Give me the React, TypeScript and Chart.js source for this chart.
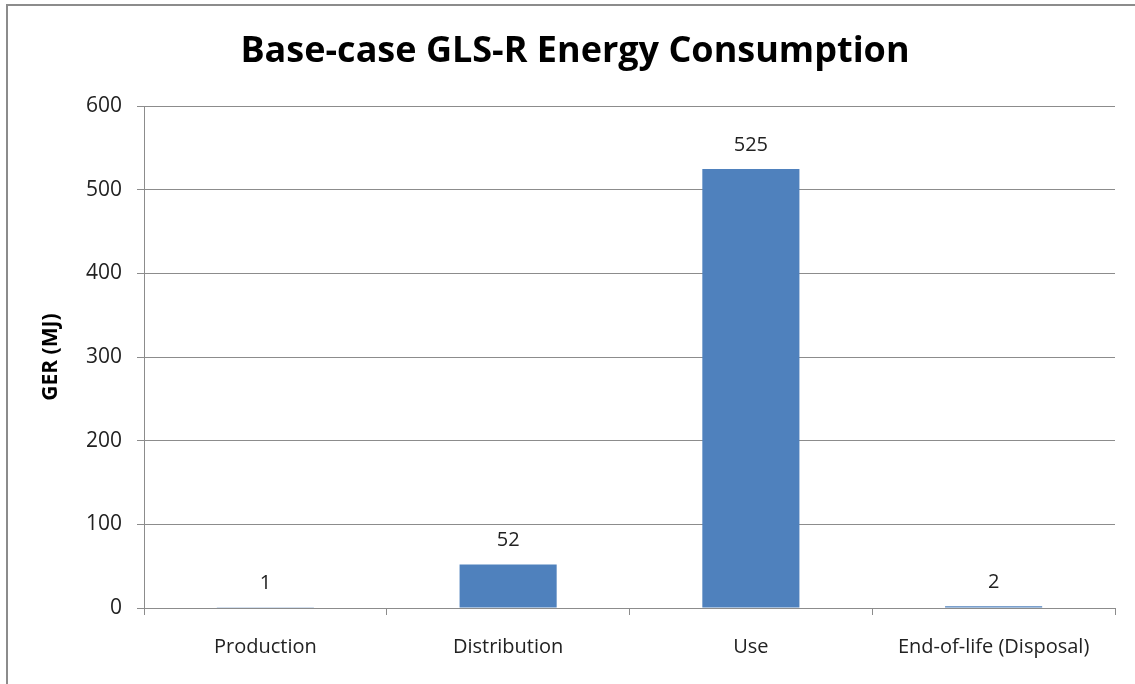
import React, { useEffect, useRef } from "react";
import { Chart, registerables } from "chart.js";

Chart.register(...registerables);

const categories = ["Production", "Distribution", "Use", "End-of-life (Disposal)"];
const gerValues = [1, 52, 525, 2];
const titleText = "Base-case GLS-R Energy Consumption";
const yAxisTitle = "GER (MJ)";

const FONT = "'Open Sans', 'DejaVu Sans', sans-serif";

const dataLabelPlugin = {
  id: "dataLabels",
  afterDatasetsDraw(chart: any) {
    const ctx = chart.ctx;
    const meta = chart.getDatasetMeta(0);
    ctx.save();
    ctx.font = `20px ${FONT}`;
    ctx.fillStyle = "#222";
    ctx.textAlign = "center";
    ctx.textBaseline = "middle";
    meta.data.forEach((bar: any, i: number) => {
      ctx.fillText(String(gerValues[i]), bar.x, bar.y - 24);
    });
    ctx.restore();
  },
};

export default function App() {
  const ref = useRef<HTMLCanvasElement>(null);
  useEffect(() => {
    if (!ref.current) return;
    const chart = new Chart(ref.current, {
      type: "bar",
      data: {
        labels: categories,
        datasets: [
          {
            data: gerValues,
            backgroundColor: "#4F81BD",
            categoryPercentage: 1,
            barPercentage: 0.4,
          },
        ],
      },
      options: {
        animation: false,
        responsive: false,
        maintainAspectRatio: false,
        layout: { padding: { top: 0, left: 15, right: 0, bottom: 0 } },
        plugins: {
          legend: { display: false },
          tooltip: { enabled: false },
          title: {
            display: true,
            text: titleText,
            color: "#000",
            font: { family: FONT, size: 36, weight: "bold", lineHeight: 1.2 },
            padding: { top: 30, bottom: 33 },
          },
        },
        scales: {
          x: {
            offset: true,
            grid: {
              offset: true,
              drawOnChartArea: false,
              tickLength: 7,
              color: "#8c8c8c",
            },
            border: { color: "#8c8c8c" },
            ticks: {
              color: "#222",
              font: { family: FONT, size: 20 },
              padding: 20,
            },
            afterFit(scale: any) {
              scale.height = 76;
            },
          },
          y: {
            min: 0,
            max: 600,
            ticks: {
              stepSize: 100,
              color: "#222",
              font: { family: FONT, size: 21 },
              padding: 15,
            },
            grid: { color: "#8c8c8c", tickLength: 7 },
            border: { color: "#8c8c8c" },
            title: {
              display: true,
              text: yAxisTitle,
              color: "#000",
              font: { family: FONT, size: 21, weight: "bold", lineHeight: 1.2 },
              padding: { top: 23, bottom: 0 },
            },
            afterFit(scale: any) {
              scale.width = 129;
            },
          },
          spacer: {
            type: "linear",
            position: "right",
            display: true,
            min: 0,
            max: 600,
            grid: { drawOnChartArea: false, drawTicks: false, display: false },
            border: { display: false },
            ticks: { display: false },
            afterFit(scale: any) {
              scale.width = 20;
            },
          },
        },
      },
      plugins: [dataLabelPlugin],
    });
    return () => chart.destroy();
  }, []);

  return (
    <div style={{ position: "absolute", left: 0, top: 0, width: 1135, height: 684, overflow: "hidden", background: "#fff" }}>
      <div
        style={{
          position: "absolute",
          left: 6,
          top: 4,
          width: 1300,
          height: 900,
          border: "2px solid #8c8c8c",
          boxSizing: "border-box",
        }}
      />
      <canvas ref={ref} width={1135} height={684} style={{ position: "absolute", left: 0, top: 0 }} />
    </div>
  );
}
